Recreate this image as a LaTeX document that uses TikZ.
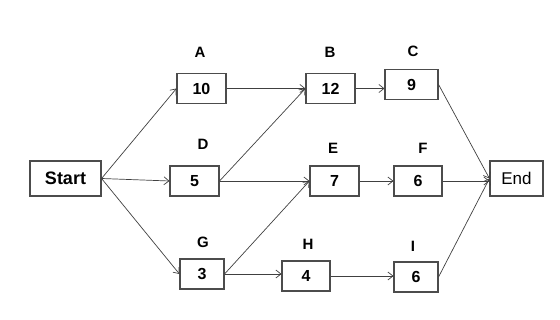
\documentclass[tikz,border=0pt]{standalone}
\usepackage{fontspec}
\setmainfont{Liberation Sans}
\usetikzlibrary{arrows.meta}
\colorlet{boxline}{black!70}
\colorlet{arrowline}{black!75}

\tikzset{
    task/.style={draw=boxline, line width=1.1pt, fill=white, inner sep=0pt,
        minimum width=49pt, minimum height=30pt, font=\fontsize{16}{16}\selectfont\bfseries},
    tasklabel/.style={font=\fontsize{15}{15}\selectfont\bfseries},
    link/.style={arrowline, line width=0.7pt, -{Straight Barb[length=5pt,width=8pt]}}
}

\begin{document}
\begin{tikzpicture}[x=1pt, y=-1pt]
        % page frame
        \useasboundingbox (0,0) rectangle (560,320);
        % start and end
        \node[task, minimum width=71pt, minimum height=35pt, font=\fontsize{18}{18}\selectfont\bfseries] (start) at (65.5,178.5) {Start};
        \node[task, minimum width=53pt, minimum height=35pt, font=\fontsize{17}{17}\selectfont] (end) at (516.5,178.5) {End};
        % activities
        \node[task] (a) at (201.5,88.5) {10};
        \node[task] (b) at (330.5,88.5) {12};
        \node[task, minimum width=53pt] (c) at (411.5,84.5) {9};
        \node[task] (d) at (194.5,181) {5};
        \node[task] (e) at (334.5,181) {7};
        \node[task, minimum width=48pt] (f) at (418,181) {6};
        \node[task, minimum width=44pt] (g) at (202,274) {3};
        \node[task, minimum width=48pt] (h) at (306,276) {4};
        \node[task, minimum width=44pt] (i) at (416,277) {6};
        % activity names
        \node[tasklabel] (la) at (200,52) {A};
        \node[tasklabel] (lb) at (330,52) {B};
        \node[tasklabel] (lc) at (413,51) {C};
        \node[tasklabel] (ld) at (203,144) {D};
        \node[tasklabel] (le) at (333,148) {E};
        \node[tasklabel] (lf) at (423,148) {F};
        \node[tasklabel] (lg) at (203,242) {G};
        \node[tasklabel] (lh) at (308,244) {H};
        \node[tasklabel] (li) at (413,246) {I};
        % dependencies
        \draw[link] (start.east) -- (a.west);
        \draw[link] (start.east) -- (d.west);
        \draw[link] (start.east) -- (g.west);
        \draw[link] (a.east) -- (b.west);
        \draw[link] (d.east) -- (b.west);
        \draw[link] (b.east) -- (b.east -| c.west);
        \draw[link] (d.east) -- (e.west);
        \draw[link] (g.east) -- (e.west);
        \draw[link] (e.east) -- (f.west);
        \draw[link] (g.east) -- (g.east -| h.west);
        \draw[link] (h.east) -- (h.east -| i.west);
        \draw[link] (c.east) -- (end.west);
        \draw[link] (f.east) -- (f.east -| end.west);
        \draw[link] (i.east) -- (end.west);
    \end{tikzpicture}
\end{document}
